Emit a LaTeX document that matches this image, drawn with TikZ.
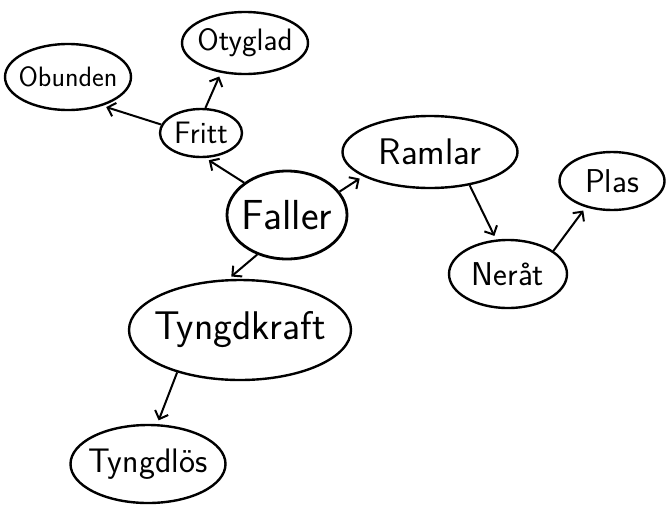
\documentclass[tikz,border=0pt]{standalone}
\usepackage{fontspec}
\usepackage{tikz}
\usetikzlibrary{positioning, arrows.meta, shapes.geometric}
% sans letters of a given size
\newcommand{\wordfont}[1]{\sffamily\fontsize{#1}{#1}\selectfont}
% word that does not widen its bubble
\newcommand{\word}[1]{\makebox[0pt]{#1}}
\tikzset{
  % Word bubble (hand-drawn ellipse)
  idea/.style={
    draw, ellipse, line width=2.4pt, inner sep=0pt,
    font=\wordfont{28}
  },
  % Central word, larger letters
  mainidea/.style={
    idea, line width=2.8pt, font=\wordfont{42}
  },
  % Arrow between two words (open barb, stops short of target)
  link/.style={
    draw, line width=2pt, -{Straight Barb[length=7pt, width=14pt]},
    shorten >=4pt
  }
}
\begin{document}
\begin{tikzpicture}[x=1pt, y=-1pt]
\useasboundingbox (0,0) rectangle (668,509);

% ============================================================
% CENTRE -- Faller
% ============================================================
\node[mainidea, minimum width=120pt, minimum height=88pt] (faller) at (287,215) {\word{Faller}};

% ============================================================
% UPPER LEFT -- Fritt and its words
% ============================================================
\node[idea, font=\wordfont{31}, minimum width=82pt,  minimum height=48pt] (fritt)   at (201,133) {\word{Fritt}};
\node[idea, font=\wordfont{31}, minimum width=126pt, minimum height=62pt] (otyglad) at (245,43)  {\word{Otyglad}};
\node[idea, font=\wordfont{28}, minimum width=126pt, minimum height=66pt] (obunden) at (68,77)   {\word{Obunden}};

% ============================================================
% RIGHT -- Ramlar, Neråt, Plas
% ============================================================
\node[idea, font=\wordfont{37},
      minimum width=175pt, minimum height=72pt] (ramlar) at (430,152) {\word{Ramlar}};
\node[idea, font=\wordfont{33},
      minimum width=118pt, minimum height=68pt] (neraat) at (508,274) {\word{Neråt}};
\node[idea, font=\wordfont{33},
      minimum width=105pt, minimum height=58pt] (plas)   at (612,181) {\word{Plas}};

% ============================================================
% LOWER LEFT -- Tyngdkraft, Tyngdlös
% ============================================================
\node[idea, font=\wordfont{40},
      minimum width=222pt, minimum height=100pt] (tyngdkraft) at (240,330) {\word{Tyngdkraft}};
\node[idea, font=\wordfont{34},
      minimum width=155pt, minimum height=78pt]  (tyngdlos)   at (148,464) {\word{Tyngdlös}};

% ============================================================
% ARROWS
% ============================================================
\draw[link] (faller.143) -- (fritt.-80);
\draw[link] (fritt.80)   -- (otyglad.-129);
\draw[link] (fritt.168)  -- (obunden.-40);

\draw[link] (faller.24)  -- (ramlar.-160);
\draw[link] (ramlar.-40) -- (neraat.109);
\draw[link] (neraat.27)  -- (plas.-135);

\draw[link] (faller.-127)     -- (tyngdkraft.103);
\draw[link] (tyngdkraft.-146) -- (tyngdlos.77);

\end{tikzpicture}
\end{document}
